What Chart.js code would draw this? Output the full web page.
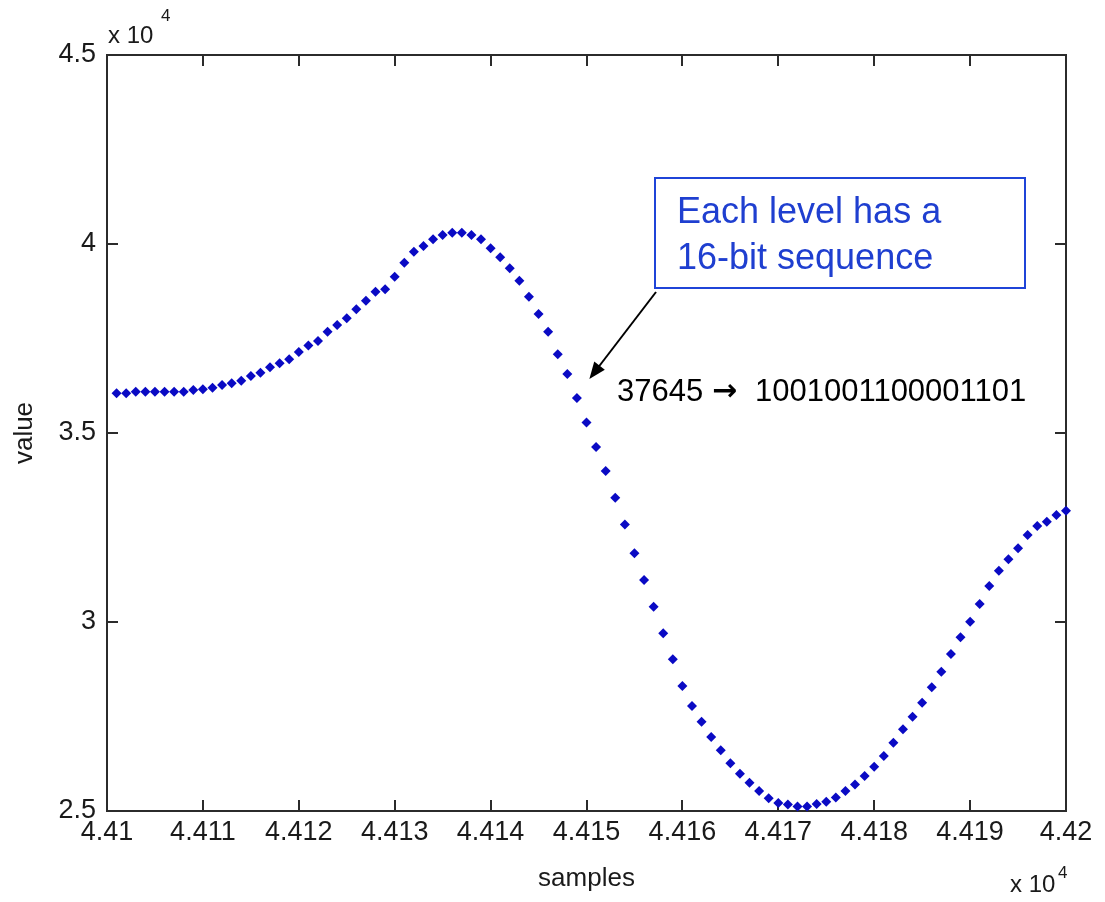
<!DOCTYPE html>
<html lang="en">
<head>
  <meta charset="UTF-8" />
  <title>samples vs value</title>
  <script src="https://cdn.jsdelivr.net/npm/chart.js"></script>
  <style>
    body { margin: 0; background: #fff; }
    canvas { display: block; }
  </style>
</head>
<body>
  <canvas id="plot" width="1105" height="902"></canvas>

  <script>
    // sample numbers start at 44101, one value per sample
    const firstSample = 44101;
    const values = [
      36050, 36050, 36093, 36093, 36093, 36093, 36093, 36093, 36138, 36156,
      36198, 36270, 36315, 36384, 36508, 36595, 36738, 36844, 36950, 37143,
      37315, 37434, 37680, 37857, 38034, 38272, 38500, 38738, 38802, 39135,
      39505, 39796, 39947, 40124, 40238, 40299, 40299, 40238, 40124, 39886,
      39648, 39357, 39029, 38606, 38148, 37680, 37082, 36561, 35926, 35278,
      34630, 33995, 33288, 32579, 31820, 31111, 30402, 29704, 29013, 28307,
      27778, 27360, 26958, 26606, 26262, 25987, 25749, 25529, 25336, 25212,
      25172, 25119, 25119, 25185, 25246, 25357, 25529, 25701, 25926, 26172,
      26455, 26807, 27161, 27495, 27865, 28273, 28685, 29153, 29595, 30008,
      30476, 30952, 31357, 31659, 31950, 32302, 32540, 32653, 32831, 32945
    ];
    const xRange = [44100, 44200];
    const yRange = [25000, 45000];
    const xStep = 10;
    const yStep = 5000;

    const points = values.map((v, i) => ({ x: firstSample + i, y: v }));

    const fmtExp = v => String(parseFloat((v / 1e4).toFixed(4)));
    const FONT = '"Liberation Sans", Arial, sans-serif';

    // MATLAB style box, inward ticks, exponents and the text annotation
    const decorations = {
      id: 'decorations',
      beforeDatasetsDraw(chart) {
        const { ctx, chartArea: a, scales } = chart;
        ctx.save();
        ctx.strokeStyle = '#2b2b2b';
        ctx.lineWidth = 2;
        ctx.strokeRect(a.left, a.top, a.right - a.left, a.bottom - a.top);
        const tl = 11;
        ctx.beginPath();
        scales.x.ticks.forEach(t => {
          const px = Math.round(scales.x.getPixelForValue(t.value));
          ctx.moveTo(px, a.bottom); ctx.lineTo(px, a.bottom - tl);
          ctx.moveTo(px, a.top); ctx.lineTo(px, a.top + tl);
        });
        scales.y.ticks.forEach(t => {
          const py = Math.round(scales.y.getPixelForValue(t.value));
          ctx.moveTo(a.left, py); ctx.lineTo(a.left + tl, py);
          ctx.moveTo(a.right, py); ctx.lineTo(a.right - tl, py);
        });
        ctx.stroke();
        ctx.restore();
      },
      afterDraw(chart) {
        const { ctx, chartArea: a, scales } = chart;
        ctx.save();
        ctx.fillStyle = '#1a1a1a';
        ctx.textBaseline = 'alphabetic';
        // exponent labels
        ctx.font = '24px ' + FONT;
        ctx.fillText('x 10', a.left + 1, 43);
        ctx.fillText('x 10', a.right - 56, 892);
        ctx.font = '17px ' + FONT;
        ctx.fillText('4', a.left + 54, 21);
        ctx.fillText('4', a.right - 8, 878);

        // callout box
        ctx.strokeStyle = '#1f44d8';
        ctx.lineWidth = 2;
        ctx.strokeRect(655, 178, 370, 110);
        ctx.fillStyle = '#1f3fd0';
        ctx.font = '36px ' + FONT;
        ctx.fillText('Each level has a', 677, 223);
        ctx.fillText('16-bit sequence', 677, 269);

        // arrow pointing at the curve
        const tipX = scales.x.getPixelForValue(44150.3);
        const tipY = scales.y.getPixelForValue(36430);
        const sx = 656, sy = 292;
        const ang = Math.atan2(tipY - sy, tipX - sx);
        ctx.strokeStyle = '#000';
        ctx.fillStyle = '#000';
        ctx.lineWidth = 2;
        ctx.beginPath();
        ctx.moveTo(sx, sy);
        ctx.lineTo(tipX - 10 * Math.cos(ang), tipY - 10 * Math.sin(ang));
        ctx.stroke();
        ctx.beginPath();
        ctx.moveTo(tipX, tipY);
        ctx.lineTo(tipX - 18 * Math.cos(ang - 0.38), tipY - 18 * Math.sin(ang - 0.38));
        ctx.lineTo(tipX - 18 * Math.cos(ang + 0.38), tipY - 18 * Math.sin(ang + 0.38));
        ctx.closePath();
        ctx.fill();

        ctx.font = '31px ' + FONT;
        ctx.fillText('37645', 617, 401);
        ctx.fillText('1001001100001101', 755, 401);
        ctx.font = 'bold 30px "DejaVu Sans", sans-serif';
        ctx.fillText('\u2192', 712, 400);
        ctx.restore();
      }
    };

    new Chart(document.getElementById('plot'), {
      type: 'scatter',
      data: {
        datasets: [{
          data: points,
          showLine: false,
          pointStyle: 'rectRot',
          pointRadius: 5,
          pointHoverRadius: 5,
          pointBorderWidth: 0,
          backgroundColor: '#0a0ac4',
          borderColor: '#0a0ac4',
          clip: false
        }]
      },
      options: {
        responsive: false,
        animation: false,
        events: [],
        layout: { padding: { top: 55, right: 39, left: 0, bottom: 0 } },
        plugins: {
          legend: { display: false },
          tooltip: { enabled: false }
        },
        scales: {
          x: {
            type: 'linear',
            min: xRange[0],
            max: xRange[1],
            grid: { display: false, drawTicks: false },
            border: { display: false },
            ticks: {
              stepSize: xStep,
              padding: 5,
              maxRotation: 0,
              autoSkip: false,
              color: '#1a1a1a',
              font: { family: FONT, size: 27 },
              callback: v => fmtExp(v)
            },
            title: {
              display: true,
              text: 'samples',
              color: '#1a1a1a',
              font: { family: FONT, size: 26 },
              padding: { top: 0, bottom: 8 }
            },
            afterFit(scale) { scale.height = 91; }
          },
          y: {
            min: yRange[0],
            max: yRange[1],
            grid: { display: false, drawTicks: false },
            border: { display: false },
            ticks: {
              stepSize: yStep,
              padding: 11,
              color: '#1a1a1a',
              font: { family: FONT, size: 27 },
              callback: v => fmtExp(v)
            },
            title: {
              display: true,
              text: 'value',
              color: '#1a1a1a',
              font: { family: FONT, size: 26 },
              padding: { top: 9, bottom: 0 }
            },
            afterFit(scale) { scale.width = 107; }
          }
        }
      },
      plugins: [decorations]
    });
  </script>
</body>
</html>
